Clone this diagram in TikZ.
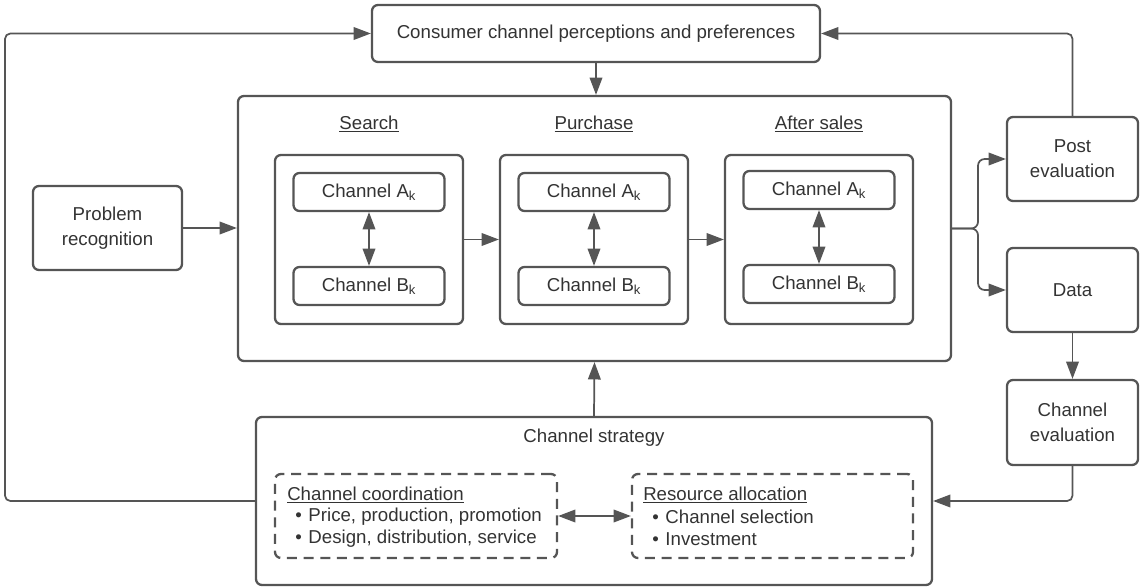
\documentclass[tikz,border=0pt]{standalone}
\usepackage{fontspec}
\setmainfont{Liberation Sans}
\usetikzlibrary{arrows.meta}
\definecolor{ln}{HTML}{555555}
\definecolor{tx}{HTML}{333333}
\begin{document}
\begin{tikzpicture}[x=0.75pt,y=-0.75pt,
  font=\fontsize{14pt}{18.5pt}\selectfont, text=tx,
  box/.style={draw=ln, line width=1.7pt, rounded corners=4.5pt, align=center, inner sep=0pt},
  dbox/.style={box, dash pattern=on 7.5pt off 5pt},
  conn/.style={draw=ln, line width=1.3pt},
  arr/.style={conn, -{Triangle[length=13pt,width=9.5pt]}},
  darr/.style={conn, {Triangle[length=13pt,width=9.5pt]}-{Triangle[length=13pt,width=9.5pt]}},
  lbl/.style={inner sep=0pt, anchor=west}]
\useasboundingbox (0,0) rectangle (1140,588);
% main boxes
\node[box, minimum width=336pt, minimum height=42.75pt] (cons) at (596,33.5) {Consumer channel perceptions and preferences};
\node[box, minimum width=534.75pt, minimum height=198.75pt] (big) at (594.5,228.5) {};
\node[box, minimum width=111.75pt, minimum height=63pt] (prob) at (107.5,228) {Problem\\recognition};
\node[box, minimum width=98.25pt, minimum height=63pt] (post) at (1072.5,159) {Post\\evaluation};
\node[box, minimum width=98.25pt, minimum height=63pt] (data) at (1072.5,290) {Data};
\node[box, minimum width=98.25pt, minimum height=63.75pt] (ceval) at (1072.5,422.5) {Channel\\evaluation};
\node[box, minimum width=507pt, minimum height=126pt] (strat) at (594,501) {};
\node[inner sep=0pt] (stratlbl) at (594,438) {Channel strategy};
% stage labels
\node[inner sep=0pt] (lsearch) at (369,124) {\underline{Search}};
\node[inner sep=0pt] (lpurch) at (594,124) {\underline{Purchase}};
\node[inner sep=0pt] (lafter) at (819,124) {\underline{After sales}};
% stage boxes
\foreach \n/\x/\dy in {s/369/0, p/594/0, a/819/-2}{
  \node[box, minimum width=141pt, minimum height=126.75pt] (\n box) at (\x,239.5) {};
  \node[box, minimum width=113.25pt, minimum height=28.5pt] (\n A) at (\x,192+\dy) {Channel A\textsubscript{k}};
  \node[box, minimum width=113.25pt, minimum height=28.5pt] (\n B) at (\x,286+\dy) {Channel B\textsubscript{k}};
  \draw[darr] (\n A.south) -- (\n B.north);
}
\draw[arr] (sbox.east) -- (pbox.west);
\draw[arr] (pbox.east) -- (abox.west);
% dashed boxes
\node[dbox, minimum width=211.5pt, minimum height=63pt] (coord) at (416,516) {};
\node[dbox, minimum width=210.75pt, minimum height=63pt] (res) at (772.5,516) {};
\node[lbl] (ct) at (287,495) {\underline{Channel coordination}};
\node[lbl] (c1) at (295,517) {•\hspace{5pt}Price, production, promotion};
\node[lbl] (c2) at (295,539) {•\hspace{5pt}Design, distribution, service};
\node[lbl] (rt) at (643,495) {\underline{Resource allocation}};
\node[lbl] (r1) at (652,517) {•\hspace{5pt}Channel selection};
\node[lbl] (r2) at (652,539) {•\hspace{5pt}Investment};
\draw[darr] (coord.east) -- (res.west);
% connectors
\coordinate (lc) at (5,33.5);
\draw[arr, rounded corners=4pt] (strat.west) -| (lc) -- (cons.west);
\draw[arr, rounded corners=4pt] (post.north) |- (cons.east);
\draw[arr] (cons.south) -- (cons.south |- big.north);
\draw[arr] (prob.east) -- (prob.east -| big.west);
\coordinate (brx) at (978,228.5);
\draw[arr, rounded corners=5pt] (big.east) -| (brx |- post.west) -- (post.west);
\draw[arr, rounded corners=5pt] (big.east) -| (brx |- data.west) -- (data.west);
\draw[arr] (data.south) -- (ceval.north);
\draw[arr, rounded corners=4pt] (ceval.south) |- (strat.east);
\draw[arr] (strat.north) -- (big.south);
\end{tikzpicture}
\end{document}
